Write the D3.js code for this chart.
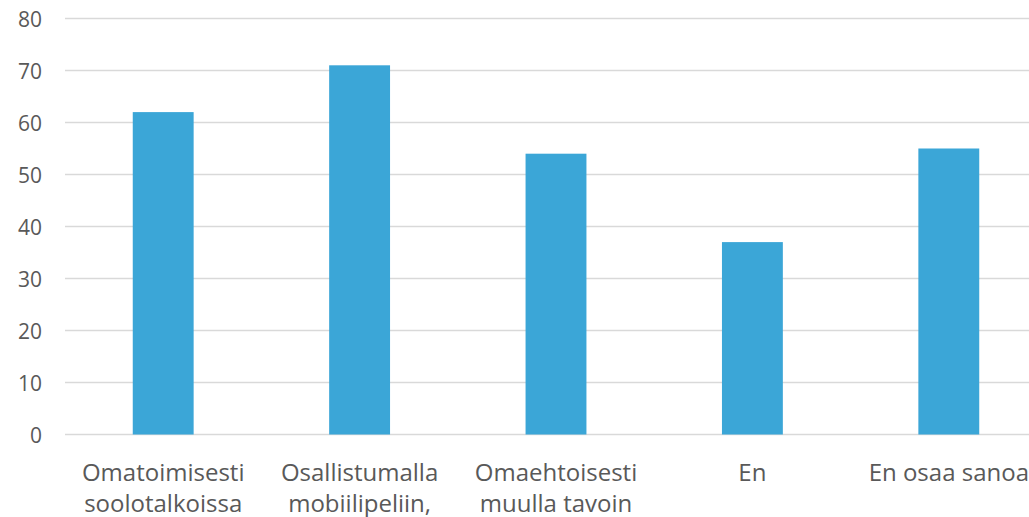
<!DOCTYPE html>
<html>
<head>
<meta charset="utf-8">
<script src="https://cdn.jsdelivr.net/npm/d3@7"></script>
<style>
  html, body { margin: 0; padding: 0; background: #fff; overflow: hidden; }
  svg { display: block; }
</style>
</head>
<body>
<svg id="chart" width="1029" height="517"></svg>
<script>
const categories = [
  ["Omatoimisesti", "soolotalkoissa"],
  ["Osallistumalla", "mobiilipeliin,"],
  ["Omaehtoisesti", "muulla tavoin"],
  ["En"],
  ["En osaa sanoa"]
];
const values = [62, 71, 54, 37, 55];
const yTicks = [0, 10, 20, 30, 40, 50, 60, 70, 80];

const svg = d3.select("#chart");
const plotLeft = 65, plotRight = 1047, plotTop = 18.5, plotBottom = 434.5;
const font = "'Open Sans', sans-serif";

const x = d3.scaleBand()
  .domain(d3.range(categories.length))
  .range([plotLeft, plotRight])
  .paddingInner(0.69)
  .paddingOuter(0.345);

const y = d3.scaleLinear().domain([0, 80]).range([plotBottom, plotTop]);

// gridlines
svg.append("g")
  .selectAll("line")
  .data(yTicks)
  .join("line")
  .attr("x1", plotLeft)
  .attr("x2", 1029)
  .attr("y1", d => y(d))
  .attr("y2", d => y(d))
  .attr("stroke", "#d9d9d9")
  .attr("stroke-width", 1.5);

// y axis labels
const yAxis = d3.axisLeft(y).tickValues(yTicks).tickSize(0).tickPadding(0);
const yg = svg.append("g").attr("transform", `translate(42,0)`).call(yAxis);
yg.select(".domain").remove();
yg.selectAll("text")
  .attr("font-family", font)
  .attr("font-size", 21)
  .attr("fill", "#595959")
  .attr("dy", "0.36em");

// bars
svg.append("g")
  .selectAll("rect")
  .data(values)
  .join("rect")
  .attr("x", (d, i) => x(i))
  .attr("width", x.bandwidth())
  .attr("y", d => y(d))
  .attr("height", d => y(0) - y(d))
  .attr("fill", "#3ba6d7");

// x labels
const xl = svg.append("g");
categories.forEach((lines, i) => {
  const t = xl.append("text")
    .attr("text-anchor", "middle")
    .attr("font-family", font)
    .attr("font-size", 24)
    .attr("fill", "#595959");
  lines.forEach((ln, j) => {
    t.append("tspan")
      .attr("x", x(i) + x.bandwidth() / 2)
      .attr("y", 481 + j * 31)
      .text(ln);
  });
});
</script>
</body>
</html>
